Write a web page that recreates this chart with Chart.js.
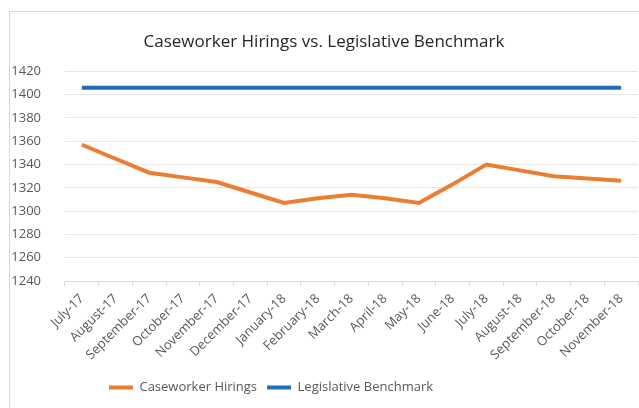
<!DOCTYPE html>
<html>
<head>
<meta charset="utf-8">
<script src="https://cdn.jsdelivr.net/npm/chart.js@4"></script>
<style>
  html, body { margin: 0; padding: 0; background: #fff; }
  #wrap { position: relative; width: 639px; height: 408px; overflow: hidden; }
  #frame { position: absolute; left: 9px; top: 11px; width: 700px; height: 500px; border: 1px solid #d9d9d9; }
  #chart { position: absolute; left: 0; top: 0; }
</style>
</head>
<body>
<div id="wrap">
  <div id="frame"></div>
  <canvas id="chart" width="639" height="408"></canvas>
</div>
<script>
const months = [
  "July-17", "August-17", "September-17", "October-17", "November-17", "December-17",
  "January-18", "February-18", "March-18", "April-18", "May-18", "June-18",
  "July-18", "August-18", "September-18", "October-18", "November-18"
];
const hirings = [1357, 1345, 1333, 1329, 1325, 1316, 1307, 1311, 1314, 1311, 1307, 1323, 1340, 1335, 1330, 1328, 1326];
const benchmark = [1406, 1406, 1406, 1406, 1406, 1406, 1406, 1406, 1406, 1406, 1406, 1406, 1406, 1406, 1406, 1406, 1406];

const yMin = 1240, yMax = 1420, yStep = 20;

const FONT = "'Open Sans', 'Noto Sans', sans-serif";
const GRID = "#e6e6e6";
const TEXT = "#595959";

// legend sits left of centre, under the plotted months
const legendShift = {
  id: "legendShift",
  afterLayout(chart) {
    chart.legend.left = 0;
    chart.legend.right = 542;
  }
};

const ctx = document.getElementById("chart").getContext("2d");

new Chart(ctx, {
  type: "line",
  data: {
    labels: months,
    datasets: [
      {
        label: "Caseworker Hirings",
        data: hirings,
        borderColor: "#ED7D31",
        backgroundColor: "#ED7D31",
        borderWidth: 4,
        pointRadius: 0,
        tension: 0
      },
      {
        label: "Legislative Benchmark",
        data: benchmark,
        borderColor: "#1F6EB8",
        backgroundColor: "#1F6EB8",
        borderWidth: 4,
        pointRadius: 0,
        tension: 0
      }
    ]
  },
  plugins: [legendShift],
  options: {
    responsive: false,
    animation: false,
    layout: { padding: { left: 10, right: 1, top: 0, bottom: 4 } },
    plugins: {
      title: {
        display: true,
        text: "Caseworker Hirings vs. Legislative Benchmark",
        color: "#262626",
        font: { family: FONT, size: 17, weight: "normal" },
        padding: { top: 32, bottom: 19 }
      },
      legend: {
        position: "bottom",
        labels: {
          color: TEXT,
          font: { family: FONT, size: 13 },
          usePointStyle: true,
          pointStyle: "line",
          pointStyleWidth: 24,
          padding: 10
        }
      },
      tooltip: { enabled: false }
    },
    scales: {
      x: {
        offset: true,
        grid: {
          offset: true,
          drawOnChartArea: false,
          drawTicks: true,
          tickLength: 5,
          color: "#d9d9d9"
        },
        border: { color: "#d9d9d9" },
        ticks: {
          color: TEXT,
          font: { family: FONT, size: 13 },
          minRotation: 45,
          maxRotation: 45,
          autoSkip: false,
          padding: 5
        },
        afterFit: scale => { scale.height = 90; }
      },
      y: {
        min: yMin,
        max: yMax,
        grid: { color: GRID, drawTicks: false },
        border: { display: false },
        ticks: {
          stepSize: yStep,
          color: TEXT,
          font: { family: FONT, size: 13 },
          padding: 24,
          callback: v => String(v)
        },
        afterFit: scale => { scale.width = 55; }
      }
    }
  }
});
</script>
</body>
</html>
